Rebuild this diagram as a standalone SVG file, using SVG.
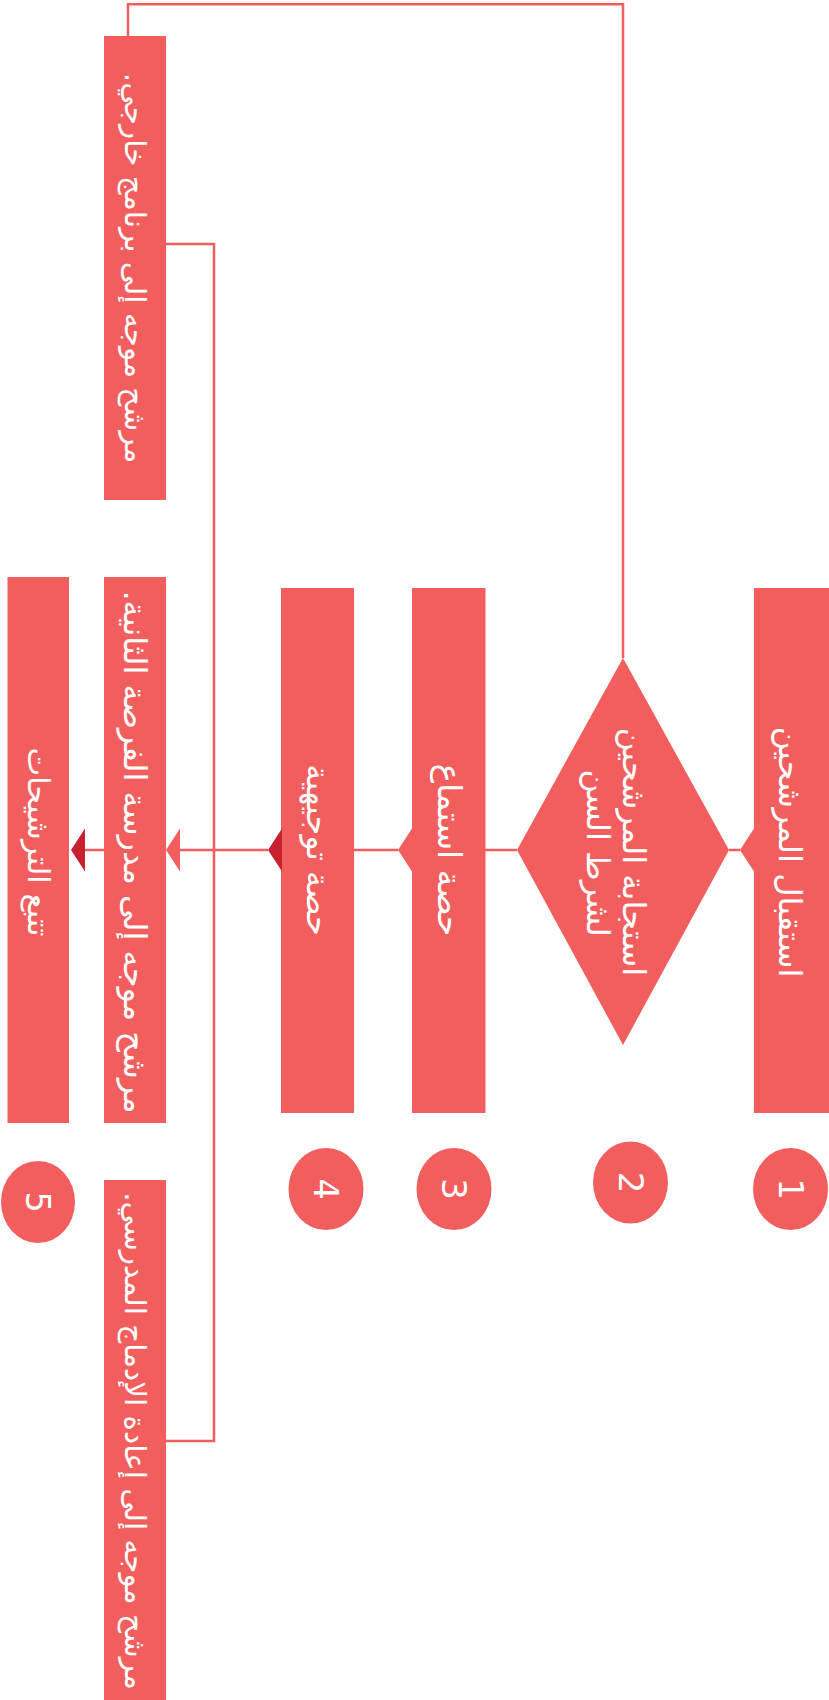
<svg xmlns="http://www.w3.org/2000/svg" width="829" height="1700" viewBox="0 0 829 1700">
<style>
.box{fill:#f15e5d}
.ah{fill:#f15e5d}
.ahd{fill:#c8202f}
.ln{fill:none;stroke:#f15e5d;stroke-width:2.5}
.lbl{font-family:"DejaVu Sans","Noto Sans",sans-serif;font-size:32px;fill:#ffffff;text-anchor:middle;dominant-baseline:central}
.sm{font-size:29.5px}
.num{font-family:"DejaVu Sans","Liberation Sans",sans-serif;font-size:34px;fill:#ffffff;text-anchor:middle;dominant-baseline:central}
</style>
<rect width="829" height="1700" fill="#ffffff"/>
<g id="connectors">
<path class="ln" d="M128,36 V4.3 H623 V658"/>
<path class="ln" d="M740,850 H729"/>
<path class="ln" d="M517,850 H485"/>
<path class="ln" d="M398,850 H354"/>
<path class="ln" d="M268,850 H180"/>
<path class="ln" d="M104,850 H85"/>
<path class="ln" d="M166,244 H214 V1441 H166"/>
</g>
<g id="n1">
<rect class="box" x="754" y="588" width="75" height="525"/>
<polygon class="ah" points="754,828.5 740,850 754,871.5"/>
<text class="lbl" direction="rtl" transform="translate(790,852) rotate(90)">استقبال المرشحين</text>
</g>
<g id="n2">
<polygon class="box" points="623,658 729,850 623,1045 517,850"/>
<text class="lbl" direction="rtl" transform="translate(634,852) rotate(90)">استجابة المرشحين</text>
<text class="lbl" direction="rtl" transform="translate(598,853) rotate(90)">لشرط السن</text>
</g>
<g id="n3">
<rect class="box" x="412" y="588" width="73.5" height="525"/>
<polygon class="ah" points="412,828.5 398,850 412,871.5"/>
<text class="lbl" direction="rtl" transform="translate(449,850) rotate(90)" style="font-size:33px">حصة استماع</text>
</g>
<g id="n4">
<rect class="box" x="281" y="588" width="73" height="525"/>
<polygon class="ahd" points="282,828.5 268,850 282,871.5"/>
<text class="lbl" direction="rtl" transform="translate(317.5,850) rotate(90)">حصة توجيهية</text>
</g>
<g id="n5a">
<rect class="box" x="104" y="577" width="62" height="546"/>
<polygon class="ah" points="180,828.5 166,850 180,871.5"/>
<text class="lbl" direction="rtl" transform="translate(135,852) rotate(90)" style="font-size:32px">مرشح موجه إلى مدرسة الفرصة الثانية.</text>
</g>
<g id="n5">
<rect class="box" x="7.5" y="577" width="61.5" height="546"/>
<polygon class="ahd" points="85,828.5 71,850 85,871.5"/>
<text class="lbl" direction="rtl" transform="translate(38,842) rotate(90)" style="font-size:30.5px">تتبع الترشيحات</text>
</g>
<g id="n6">
<rect class="box" x="104" y="36" width="62" height="464"/>
<text class="lbl sm" direction="rtl" transform="translate(135,268) rotate(90)">مرشح موجه إلى برنامج خارجي.</text>
</g>
<g id="n7">
<rect class="box" x="104" y="1180" width="62" height="520"/>
<text class="lbl sm" direction="rtl" transform="translate(135,1441) rotate(90)">مرشح موجه إلى إعادة الإدماج المدرسي.</text>
</g>
<g id="c1"><ellipse class="box" cx="790.5" cy="1189" rx="37.5" ry="41"/><text class="num" transform="translate(790.5,1189) rotate(90)">1</text></g>
<g id="c2"><ellipse class="box" cx="630.5" cy="1182.5" rx="37.5" ry="41"/><text class="num" transform="translate(630.5,1182.5) rotate(90)">2</text></g>
<g id="c3"><ellipse class="box" cx="454" cy="1189" rx="37.5" ry="41"/><text class="num" transform="translate(454,1189) rotate(90)">3</text></g>
<g id="c4"><ellipse class="box" cx="326" cy="1189" rx="37.5" ry="41"/><text class="num" transform="translate(326,1189) rotate(90)">4</text></g>
<g id="c5"><ellipse class="box" cx="38" cy="1202" rx="37" ry="41"/><text class="num" transform="translate(38,1202) rotate(90)">5</text></g>
</svg>
